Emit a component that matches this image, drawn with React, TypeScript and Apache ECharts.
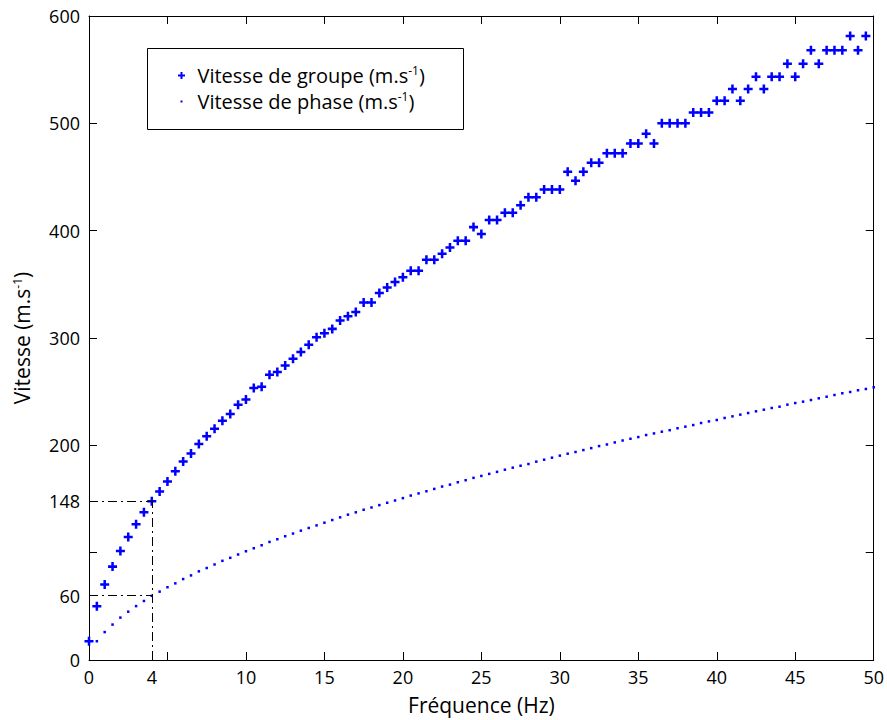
import React, { useEffect, useRef } from "react";
import * as echarts from "echarts";

const groupFreq = [
  0, 0.5, 1, 1.5, 2, 2.5, 3, 3.5, 4, 4.5, 5, 5.5, 6, 6.5, 7, 7.5, 8, 8.5, 9, 9.5,
  10, 10.5, 11, 11.5, 12, 12.5, 13, 13.5, 14, 14.5, 15, 15.5, 16, 16.5, 17, 17.5, 18, 18.5, 19, 19.5,
  20, 20.5, 21, 21.5, 22, 22.5, 23, 23.5, 24, 24.5, 25, 25.5, 26, 26.5, 27, 27.5, 28, 28.5, 29, 29.5,
  30, 30.5, 31, 31.5, 32, 32.5, 33, 33.5, 34, 34.5, 35, 35.5, 36, 36.5, 37, 37.5, 38, 38.5, 39, 39.5,
  40, 40.5, 41, 41.5, 42, 42.5, 43, 43.5, 44, 44.5, 45, 45.5, 46, 46.5, 47, 47.5, 48, 48.5, 49, 49.5,
];
const groupSpeed = [
  17.5, 50, 70.3, 87, 101.6, 114.7, 126.5, 137.7, 148, 157, 166.2, 175.9, 184.9, 192.3, 201.2, 208.4, 215.5, 223, 229.2, 237.8,
  242.7, 253.5, 254.5, 265.7, 268.4, 274.4, 280.6, 287, 293.8, 300.8, 304.5, 308.5, 316.3, 320.2, 324.3, 333, 333, 342, 347.1, 352.1,
  356.7, 362.6, 362.6, 372.9, 372.9, 378.5, 384.4, 390.6, 390.6, 403.3, 396.8, 409.9, 409.9, 416.7, 416.7, 423.7, 431.2, 431.2, 438.3, 438.3,
  438.3, 454.8, 446.4, 454.8, 463.2, 463.2, 472.2, 472.2, 472.2, 481.2, 481.2, 490.2, 481.2, 500, 500, 500, 500, 510, 510, 510,
  521, 521, 532, 521, 532, 543.5, 532, 543.5, 543.5, 555.6, 543.5, 555.6, 568, 555.6, 568, 568, 568, 581.4, 568, 581.4,
];

const phaseFreq = [
  0.5, 1, 1.5, 2, 2.5, 3, 3.5, 4, 4.5, 5, 5.5, 6, 6.5, 7, 7.5, 8, 8.5, 9, 9.5, 10,
  10.5, 11, 11.5, 12, 12.5, 13, 13.5, 14, 14.5, 15, 15.5, 16, 16.5, 17, 17.5, 18, 18.5, 19, 19.5, 20,
  20.5, 21, 21.5, 22, 22.5, 23, 23.5, 24, 24.5, 25, 25.5, 26, 26.5, 27, 27.5, 28, 28.5, 29, 29.5, 30,
  30.5, 31, 31.5, 32, 32.5, 33, 33.5, 34, 34.5, 35, 35.5, 36, 36.5, 37, 37.5, 38, 38.5, 39, 39.5, 40,
  40.5, 41, 41.5, 42, 42.5, 43, 43.5, 44, 44.5, 45, 45.5, 46, 46.5, 47, 47.5, 48, 48.5, 49, 49.5, 50,
];
const phaseSpeed = [
  17.5, 26, 33, 39.5, 45, 50.2, 55, 59.8, 63.7, 67.8, 71.4, 75.4, 78.8, 82.6, 85.7, 89, 92.4, 95.2, 98.3, 101.3,
  104.1, 106.9, 110, 112.5, 115.3, 117.8, 120.5, 123, 125.4, 127.9, 130.4, 132.9, 135.4, 137.6, 140, 142.1, 144.3, 146.5, 148.6, 150.8,
  153.2, 155.2, 157.2, 159.4, 161.6, 163.4, 165.6, 167.5, 169.7, 171.5, 173.4, 175.3, 177.3, 179.2, 181, 182.6, 184.8, 186.6, 188.5, 190.4,
  192.2, 193.8, 195.6, 197.4, 199.3, 200.8, 202.7, 204.5, 206.1, 207.7, 209.6, 211.1, 212.7, 214.1, 215.9, 217.4, 218.9, 220.8, 222.3, 223.6,
  225.5, 227, 228.6, 230.1, 231.7, 233.2, 234.8, 236, 237.9, 239.4, 240.7, 242.2, 243.8, 245.3, 246.9, 248.5, 249.7, 251.3, 252.5, 254.1,
];

const xTickValues = [0, 5, 10, 15, 20, 25, 30, 35, 40, 45, 50];
const xLabelValues = [0, 4, 10, 15, 20, 25, 30, 35, 40, 45, 50];
const yTickValues = [0, 100, 200, 300, 400, 500, 600];
const yLabelValues = [0, 60, 148, 200, 300, 400, 500, 600];

const markFreq = 4;
const markGroup = 148;
const markPhase = 60;

const FONT = "Open Sans";
const BLUE = "#0000ff";
const PLUS = "path://M3.6,0H6.4V3.6H10V6.4H6.4V10H3.6V6.4H0V3.6H3.6Z";

export default function App() {
  const ref = useRef<HTMLDivElement>(null);
  useEffect(() => {
    if (!ref.current) return;
    const chart = echarts.init(ref.current, null, { renderer: "svg" });
    const axisLine = { show: true, onZero: false, lineStyle: { color: "#000", width: 1 } };
    const tickBase = { show: true, inside: true, length: 8, lineStyle: { color: "#000", width: 1 } };
    const labelStyle = { color: "#000", fontFamily: FONT, fontSize: 18 };
    const sup = { fontSize: 12, fontFamily: FONT, color: "#000", verticalAlign: "bottom", padding: [0, 0, 10, 0] };
    const dashDot = { color: "#000", width: 1, type: [9, 4, 2, 4] };

    chart.setOption({
      animation: false,
      backgroundColor: "#fff",
      grid: { left: 89, right: 8, top: 16, bottom: 59, containLabel: false },
      xAxis: [
        {
          type: "value", min: 0, max: 50, interval: 5, position: "bottom",
          name: "Fréquence (Hz)", nameLocation: "middle", nameGap: 34,
          nameTextStyle: { color: "#000", fontFamily: FONT, fontSize: 21 },
          axisLine, splitLine: { show: false },
          axisTick: { ...tickBase, customValues: xTickValues },
          axisLabel: { ...labelStyle, margin: 8, customValues: xLabelValues },
        },
        {
          type: "value", min: 0, max: 50, interval: 5, position: "top",
          axisLine, splitLine: { show: false },
          axisTick: { ...tickBase, customValues: xTickValues },
          axisLabel: { show: false },
        },
      ],
      yAxis: [
        {
          type: "value", min: 0, max: 600, interval: 100, position: "left",
          name: "Vitesse (m.s{sup|-1})", nameLocation: "middle", nameGap: 56,
          nameTextStyle: { color: "#000", fontFamily: FONT, fontSize: 21, rich: { sup } },
          axisLine, splitLine: { show: false },
          axisTick: { ...tickBase, customValues: yTickValues },
          axisLabel: { ...labelStyle, margin: 9, customValues: yLabelValues },
        },
        {
          type: "value", min: 0, max: 600, interval: 100, position: "right",
          axisLine, splitLine: { show: false },
          axisTick: { ...tickBase, customValues: yTickValues },
          axisLabel: { show: false },
        },
      ],
      series: [
        {
          name: "Vitesse de phase (m.s-1)",
          type: "scatter",
          symbol: "rect",
          symbolSize: 2.5,
          itemStyle: { color: BLUE, opacity: 1 },
          data: phaseFreq.map((f, i) => [f, phaseSpeed[i]]),
          z: 3,
        },
        {
          name: "Vitesse de groupe (m.s-1)",
          type: "scatter",
          symbol: PLUS,
          symbolSize: 9,
          itemStyle: { color: BLUE, opacity: 1 },
          data: groupFreq.map((f, i) => [f, groupSpeed[i]]),
          z: 4,
          markLine: {
            silent: true,
            symbol: "none",
            label: { show: false },
            lineStyle: dashDot,
            data: [
              [{ coord: [0, markGroup] }, { coord: [markFreq, markGroup] }],
              [{ coord: [markFreq, 0] }, { coord: [markFreq, markGroup] }],
              [{ coord: [0, markPhase] }, { coord: [markFreq, markPhase] }],
            ],
          },
        },
      ],
      graphic: [
        {
          type: "group",
          left: 147,
          top: 48,
          z: 100,
          children: [
            { type: "rect", shape: { x: 0, y: 0, width: 316, height: 81 }, style: { fill: "#fff", stroke: "#000", lineWidth: 1 } },
            { type: "rect", shape: { x: 30.5, y: 26, width: 7, height: 2 }, style: { fill: BLUE } },
            { type: "rect", shape: { x: 33, y: 23.5, width: 2, height: 7 }, style: { fill: BLUE } },
            { type: "rect", shape: { x: 33, y: 52, width: 2, height: 2 }, style: { fill: BLUE } },
            {
              type: "text", x: 50, y: 27,
              style: {
                text: "Vitesse de groupe (m.s{sup|-1})",
                fill: "#000", fontFamily: FONT, fontSize: 20,
                verticalAlign: "middle",
                rich: { sup },
              },
            },
            {
              type: "text", x: 50, y: 53,
              style: {
                text: "Vitesse de phase (m.s{sup|-1})",
                fill: "#000", fontFamily: FONT, fontSize: 20,
                verticalAlign: "middle",
                rich: { sup },
              },
            },
          ],
        },
      ],
    });
    return () => chart.dispose();
  }, []);
  return <div ref={ref} style={{ position: "fixed", left: 0, top: 0, width: 887, height: 720, background: "#fff" }} />;
}
